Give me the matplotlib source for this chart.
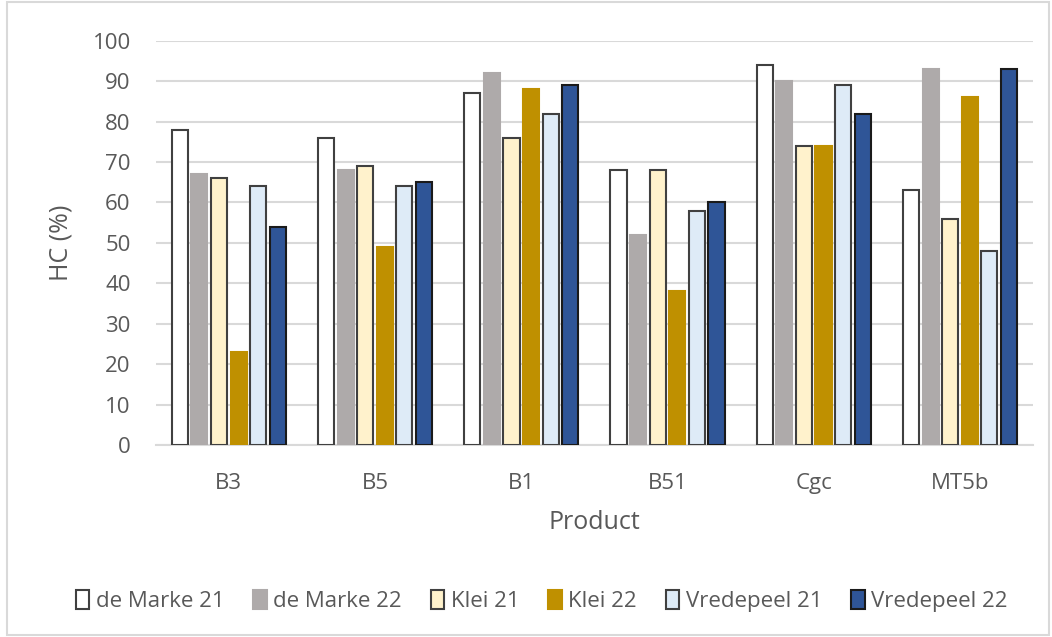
import numpy as np
import matplotlib.pyplot as plt
from matplotlib.patches import Rectangle

# Gegevens
producten = ["B3", "B5", "B1", "B51", "Cgc", "MT5b"]
series = ["de Marke 21", "de Marke 22", "Klei 21", "Klei 22", "Vredepeel 21", "Vredepeel 22"]
de_marke_21 = [78, 76, 87, 68, 94, 63]
de_marke_22 = [67, 68, 92, 52, 90, 93]
klei_21 = [66, 69, 76, 68, 74, 56]
klei_22 = [23, 49, 88, 38, 74, 86]
vredepeel_21 = [64, 64, 82, 58, 89, 48]
vredepeel_22 = [54, 65, 89, 60, 82, 93]

waarden = [de_marke_21, de_marke_22, klei_21, klei_22, vredepeel_21, vredepeel_22]
kleuren = ["#ffffff", "#aeaaaa", "#fff2cc", "#bf9000", "#deebf7", "#2f5597"]
randen = ["#404040", "#aeaaaa", "#404040", "#bf9000", "#404040", "#1a1a1a"]

plt.rcParams['font.family'] = ['Open Sans', 'DejaVu Sans']

fig = plt.figure(figsize=(10.52, 6.37), dpi=100)
ax = fig.add_axes([0.148, 0.3014, 0.834, 0.6346])

x = np.arange(len(producten))
slot = 0.134
breedte = 0.11
for i, (naam, w) in enumerate(zip(series, waarden)):
    ax.bar(x + (i - 2.5) * slot, w, breedte, color=kleuren[i], edgecolor=randen[i],
           linewidth=1.5, label=naam, zorder=3)

ax.set_xlim(-0.5, len(producten) - 0.5)
ax.set_ylim(0, 100)
ax.set_yticks(range(0, 101, 10))
ax.set_xticks(x)
ax.set_xticklabels(producten)
ax.grid(axis='y', color='#d9d9d9', linewidth=1.5, zorder=0)
for s in ['top', 'right', 'left']:
    ax.spines[s].set_visible(False)
ax.spines['bottom'].set_color('#d9d9d9')
ax.spines['bottom'].set_linewidth(1.5)
ax.tick_params(length=0, labelsize=16, colors='#595959')
ax.tick_params(axis='y', pad=18)
ax.tick_params(axis='x', pad=20)
ax.set_xlabel("Product", fontsize=18, color='#595959', labelpad=12)
ax.set_ylabel("HC (%)", fontsize=18, color='#595959', labelpad=14)

fig.legend(loc='center', bbox_to_anchor=(0.515, 0.056), ncol=6, frameon=False,
           fontsize=16, labelcolor='#595959', handlelength=0.6, handleheight=0.9,
           handletextpad=0.3, columnspacing=1.3)

fig.patches.append(Rectangle((0.007, 0.003), 0.99, 0.994, transform=fig.transFigure,
                             fill=False, edgecolor='#d9d9d9', linewidth=1.5))

fig.savefig("out.png", dpi=100)
